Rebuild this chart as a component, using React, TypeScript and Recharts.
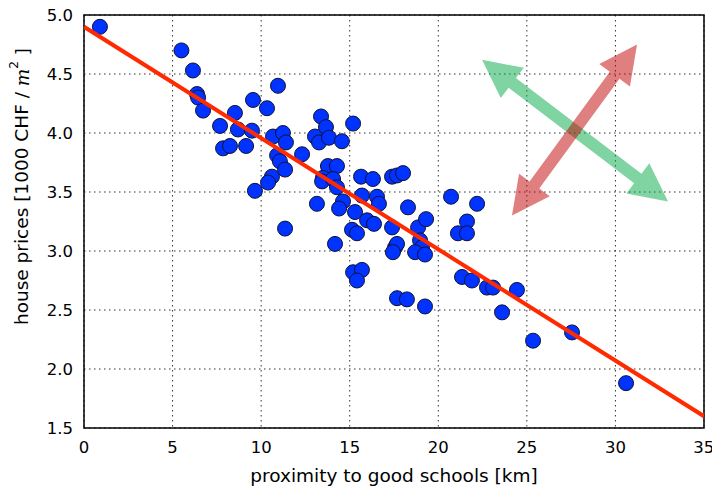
import { ScatterChart, Scatter, XAxis, YAxis, CartesianGrid, ReferenceLine, ReferenceArea, Label } from 'recharts';

// distance to school (km) vs house price (1000 CHF / m^2)
const distances = [
  0.9, 5.5, 6.15, 6.38, 6.44, 6.72, 7.68, 8.52, 9.54, 10.33, 8.69, 9.48, 7.85, 8.24, 9.15, 10.95,
  10.67, 11.23, 11.4, 10.9, 11.06, 11.35, 12.31, 10.61, 10.39, 9.65, 11.35, 13.38, 13.66, 13.04,
  13.27, 13.83, 14.56, 15.19, 13.77, 14.28, 13.49, 13.44, 14.06, 14.28, 13.15, 14.62, 14.4, 15.3,
  15.69, 15.64, 16.31, 16.54, 16.65, 15.98, 16.37, 15.13, 15.41, 14.17, 17.39, 17.67, 18.01, 17.39,
  18.29, 17.56, 17.67, 18.86, 19.31, 18.97, 19.08, 18.69, 19.25, 17.44, 20.72, 22.19, 21.62, 21.11,
  21.62, 15.19, 15.69, 15.41, 17.67, 18.23, 19.25, 21.34, 21.9, 22.75, 23.09, 24.44, 23.6, 25.35,
  27.55, 30.6,
];
const prices = [
  4.9, 4.7, 4.53, 4.33, 4.3, 4.19, 4.06, 4.17, 4.28, 4.21, 4.03, 4.02, 3.87, 3.89, 3.89, 4.4,
  3.97, 4.0, 3.92, 3.81, 3.76, 3.69, 3.82, 3.63, 3.58, 3.51, 3.19, 4.14, 4.05, 3.97,
  3.92, 3.96, 3.93, 4.08, 3.72, 3.72, 3.62, 3.59, 3.61, 3.54, 3.4, 3.42, 3.36, 3.33,
  3.47, 3.63, 3.61, 3.46, 3.4, 3.26, 3.23, 3.18, 3.15, 3.06, 3.63, 3.64, 3.66, 3.2,
  3.37, 3.03, 3.06, 3.2, 3.27, 3.09, 3.03, 2.99, 2.97, 2.99, 3.46, 3.4, 3.25, 3.15,
  3.15, 2.82, 2.84, 2.75, 2.6, 2.59, 2.53, 2.78, 2.75, 2.69, 2.69, 2.67, 2.48, 2.24,
  2.31, 1.88,
];

const fitLine = [
  { x: 0, y: 4.9 },
  { x: 35, y: 1.6 },
];
const greenArrow = [
  { x: 22.47, y: 4.62 },
  { x: 32.97, y: 3.42 },
];
const redArrow = [
  { x: 24.16, y: 3.3 },
  { x: 31.22, y: 4.75 },
];

const xTicks = [0, 5, 10, 15, 20, 25, 30, 35];
const yTicks = [1.5, 2.0, 2.5, 3.0, 3.5, 4.0, 4.5, 5.0];

const points = distances.map((x, i) => ({ x, y: prices[i] }));

const FONT = '"DejaVu Sans", sans-serif';

function arrowShape(fill: string) {
  return (props: any) => {
    const { x1, y1, x2, y2 } = props;
    const dx = x2 - x1;
    const dy = y2 - y1;
    const len = Math.sqrt(dx * dx + dy * dy);
    const ux = dx / len, uy = dy / len;
    const nx = -uy, ny = ux;
    const hl = 38, hw = 19, sw = 6;
    const b1x = x1 + ux * hl, b1y = y1 + uy * hl;
    const b2x = x2 - ux * hl, b2y = y2 - uy * hl;
    const pts = [
      [x1, y1],
      [b1x + nx * hw, b1y + ny * hw],
      [b1x + nx * sw, b1y + ny * sw],
      [b2x + nx * sw, b2y + ny * sw],
      [b2x + nx * hw, b2y + ny * hw],
      [x2, y2],
      [b2x - nx * hw, b2y - ny * hw],
      [b2x - nx * sw, b2y - ny * sw],
      [b1x - nx * sw, b1y - ny * sw],
      [b1x - nx * hw, b1y - ny * hw],
    ];
    return <polygon points={pts.map((p) => p.join(',')).join(' ')} fill={fill} fillOpacity={0.5} />;
  };
}

const renderYLabel = (p: any) => {
  const vb = p.viewBox;
  const cx = vb.x + 21.5;
  const cy = vb.y + vb.height / 2 - 35;
  return (
    <text
      x={cx}
      y={cy}
      transform={`rotate(-90 ${cx} ${cy})`}
      textAnchor="middle"
      dominantBaseline="central"
      fontSize={18.5}
      fontFamily={FONT}
      fill="#000"
    >
      house prices [1000 CHF / <tspan fontStyle="italic" fontFamily='"DejaVu Serif", serif'>m</tspan>
      <tspan dy={-8} fontSize={12}>2</tspan>
      <tspan dy={8}> ]</tspan>
    </text>
  );
};

const dot = (p: any) => (
  <circle cx={p.cx} cy={p.cy} r={7.5} fill="#0033ff" stroke="#111133" strokeWidth={1} />
);

export default function App() {
  return (
    <div style={{ position: 'absolute', left: 0, top: 0, fontFamily: FONT }}>
      <ScatterChart width={712} height={486} margin={{ top: 15, right: 8, bottom: 0, left: 0 }}>
        <CartesianGrid stroke="#333" strokeDasharray="1.5 3.5" strokeWidth={1} />
        <XAxis
          dataKey="x"
          type="number"
          domain={[0, 35]}
          ticks={xTicks}
          height={58}
          tickLine={false}
          axisLine={false}
          tickSize={0}
          tickMargin={13}
          tick={{ fill: '#000', fontSize: 16.5, fontFamily: FONT }}
          allowDataOverflow
        >
          <Label
            value="proximity to good schools [km]"
            position="insideBottom"
            offset={4}
            fill="#000"
            fontSize={18.5}
            fontFamily={FONT}
          />
        </XAxis>
        <XAxis xAxisId="bm" type="number" domain={[0, 35]} ticks={xTicks} orientation="bottom" mirror axisLine={false} tickSize={5} tickLine={{ stroke: '#000' }} tickFormatter={() => ''} />
        <XAxis xAxisId="tm" type="number" domain={[0, 35]} ticks={xTicks} orientation="top" mirror axisLine={false} tickSize={5} tickLine={{ stroke: '#000' }} tickFormatter={() => ''} />
        <YAxis
          dataKey="y"
          type="number"
          domain={[1.5, 5]}
          ticks={yTicks}
          width={84}
          tickLine={false}
          axisLine={false}
          tickSize={0}
          tickMargin={11}
          tickFormatter={(v: number) => v.toFixed(1)}
          tick={{ fill: '#000', fontSize: 16.5, fontFamily: FONT }}
          allowDataOverflow
        >
          <Label content={renderYLabel} />
        </YAxis>
        <YAxis yAxisId="lm" type="number" domain={[1.5, 5]} ticks={yTicks} orientation="left" mirror axisLine={false} tickSize={5} tickLine={{ stroke: '#000' }} tickFormatter={() => ''} />
        <YAxis yAxisId="rm" type="number" domain={[1.5, 5]} ticks={yTicks} orientation="right" mirror axisLine={false} tickSize={5} tickLine={{ stroke: '#000' }} tickFormatter={() => ''} />
        <ReferenceLine segment={greenArrow} shape={arrowShape('#00aa44')} />
        <ReferenceLine segment={redArrow} shape={arrowShape('#c00000')} />
        <Scatter data={points} shape={dot} isAnimationActive={false} />
        <Scatter
          data={fitLine}
          line={{ stroke: '#ff2a00', strokeWidth: 4 }}
          shape={() => <g />}
          isAnimationActive={false}
        />
        <ReferenceArea x1={0} x2={35} y1={1.5} y2={5} fill="none" stroke="#000" strokeWidth={1.5} ifOverflow="visible" />
      </ScatterChart>
    </div>
  );
}
